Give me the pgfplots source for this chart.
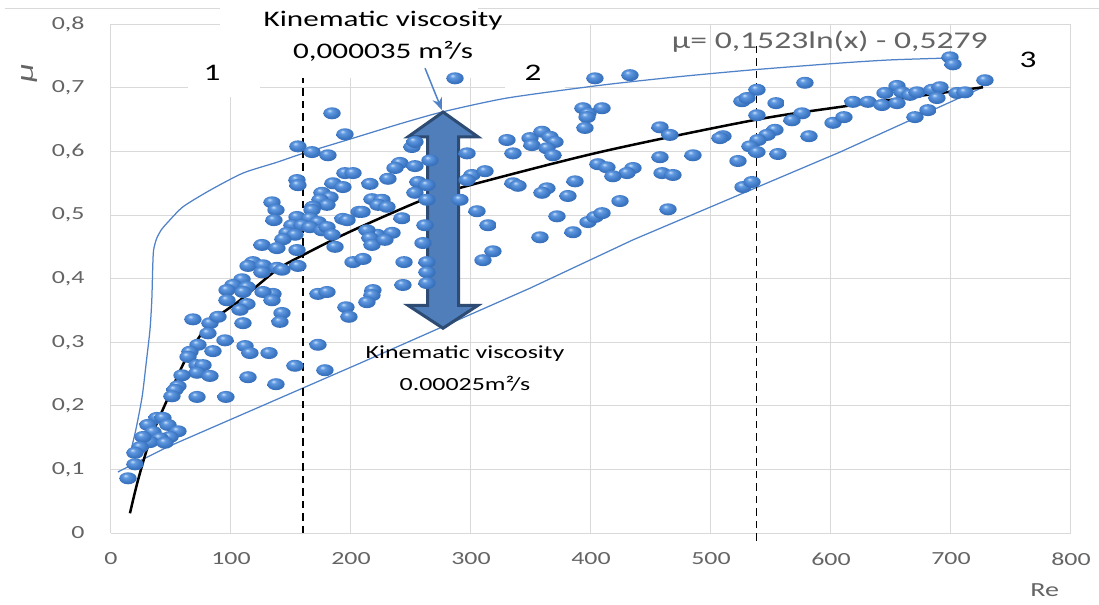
\documentclass[border=0pt]{standalone}
\usepackage{fontspec}
\setmainfont{Carlito}[FakeStretch=1.4]
\usepackage{pgfplots}
\pgfplotsset{compat=1.18}
\usetikzlibrary{arrows.meta}
\definecolor{envblue}{RGB}{80,130,200}
\definecolor{arrowfill}{RGB}{79,126,186}
\definecolor{arrowedge}{RGB}{45,75,115}
\definecolor{gridgray}{RGB}{217,217,217}
\definecolor{txtgray}{RGB}{100,100,100}
% glossy bubble like the spreadsheet's 3-D markers
\pgfdeclareradialshading{bub}{\pgfpoint{-8bp}{12bp}}{%
  rgb(0bp)=(0.78,0.88,0.98); rgb(8bp)=(0.38,0.60,0.88); rgb(22bp)=(0.24,0.47,0.77);
  rgb(38bp)=(0.17,0.37,0.64); rgb(50bp)=(0.12,0.28,0.52)}
\pgfdeclareplotmark{bubble}{%
  \pgfpathcircle{\pgfpointorigin}{\pgfplotmarksize}\pgfshadepath{bub}{0}\pgfusepath{}}

\begin{document}
\begin{tikzpicture}
\useasboundingbox (-44.4pt,-28.4pt) rectangle (395.2pt,213.2pt);
\begin{axis}[
  at={(0,0)}, anchor=south west,
  scale only axis, width=384pt, height=203.5pt,
  xmin=0, xmax=800, ymin=0, ymax=0.8,
  xtick={0,100,...,800},
  ytick={0,0.1,0.2,0.3,0.4,0.5,0.6,0.7,0.8},
  grid=major, major grid style={draw=gridgray, line width=0.4pt},
  axis line style={draw=none}, major tick length=0pt, tick style={draw=none},
  clip=false,
  /pgf/number format/use comma, /pgf/number format/1000 sep={},
  /pgf/number format/assume math mode=true,
  tick label style={font=\fontsize{7.4}{8}\selectfont, text=txtgray, inner sep=0pt},
  xticklabel style={anchor=north}, xticklabel shift=7.6pt,
  yticklabel style={anchor=east}, yticklabel shift=10.4pt,
]
% chart frame line and text backgrounds
\draw[gridgray, line width=0.4pt] (axis cs:-88,0.825) -- (axis cs:823,0.825);
\fill[white] (axis cs:90.8,0.715) rectangle (axis cs:305.8,0.84);
\fill[white] (axis cs:64.2,0.686) rectangle (axis cs:124.2,0.752);
\fill[white] (axis cs:328.3,0.698) rectangle (axis cs:378.3,0.752);

% envelopes
\addplot[envblue, line width=0.5pt, smooth, tension=0.4] coordinates {
(15.8,0.123)(21,0.165)(26,0.215)(29.5,0.27)(32.5,0.32)(34,0.366)(34.8,0.42)(35.5,0.445)
(38,0.463)(42,0.477)(47,0.488)(60,0.513)(82.5,0.539)(110,0.566)(138.3,0.583)(160,0.597)
(196.7,0.618)(240,0.643)(275.8,0.662)(330,0.684)(407.5,0.704)(470,0.717)(532.5,0.728)
(607.5,0.739)(650,0.744)(699.2,0.747)};
\addplot[envblue, line width=0.5pt] coordinates {
(5.8,0.096)(46.7,0.135)(207.5,0.267)(349.2,0.385)(435,0.461)(607.5,0.599)(726.7,0.701)};

% region borders
\addplot[black, line width=0.7pt, dash pattern=on 3pt off 2pt] coordinates {(160,0)(160,0.715)};
\addplot[black, line width=0.7pt, dash pattern=on 3pt off 2pt] coordinates {(538,-0.012)(538,0.767)};

% measured points
\addplot[only marks, mark=bubble, mark size=2.4pt, mark options={xscale=1.45}] coordinates {
(155.8,0.608)(167.5,0.599)(180.8,0.594)(195,0.566)(201.7,0.566)(155,0.555)(155.8,0.547)(185,0.550)
(193.3,0.544)(175.8,0.535)(182.5,0.528)(174.2,0.524)(180,0.516)(134.2,0.520)(168.3,0.513)(167.5,0.508)
(137.5,0.508)(206.7,0.505)(155,0.497)(165.8,0.495)(172.5,0.489)(135.8,0.492)(193.3,0.494)(150.8,0.484)
(159.2,0.484)(165.8,0.481)(175.8,0.476)(180,0.481)(146.7,0.472)(153.3,0.469)(143.3,0.462)(184.2,0.469)
(125.8,0.453)(138.3,0.448)(155,0.445)(186.7,0.450)(201.7,0.426)(118.3,0.426)(114.2,0.420)(126.7,0.421)
(155.8,0.420)(138.3,0.417)(142.5,0.414)(125.8,0.410)(109.2,0.399)(101.7,0.390)(113.3,0.387)(96.7,0.382)
(135,0.376)(172.5,0.376)(180,0.379)
(110,0.379)(126.7,0.379)(134.2,0.366)(96.7,0.366)(113.3,0.360)(107.5,0.351)(142.5,0.346)(140.8,0.332)
(68.3,0.336)(82.5,0.330)(89.2,0.340)(110,0.330)(80.8,0.314)(95,0.303)(195.8,0.355)(198.3,0.340)
(172.5,0.296)(72.5,0.296)(65.8,0.285)(64.2,0.277)(85,0.286)(111.7,0.294)(115.8,0.283)(131.7,0.283)
(71.7,0.264)(76.7,0.264)(71.7,0.252)(82.5,0.247)(153.3,0.263)(178.3,0.256)(59.2,0.248)(55.8,0.231)
(53.3,0.225)(50.8,0.215)(114.2,0.245)(137.5,0.234)(71.7,0.214)(95.8,0.214)(38.3,0.181)(43.3,0.181)
(30.8,0.170)(35,0.159)(47.5,0.170)(55.8,0.160)(49.2,0.151)(40.8,0.149)(32.5,0.143)(45,0.142)
(26.7,0.151)(24.2,0.135)(20,0.126)(20,0.108)(14.2,0.086)
(286.7,0.715)(403.3,0.715)(195,0.627)(184.2,0.660)(393.3,0.668)(397.5,0.660)(396.7,0.654)(395,0.637)
(330,0.618)(335,0.597)(349.2,0.621)(350.8,0.610)(359.2,0.631)(365.8,0.623)(370,0.615)(363.3,0.605)
(368.3,0.594)(250.8,0.607)(253.3,0.615)(296.7,0.597)(240.8,0.582)(236.7,0.574)(253.3,0.577)(230.8,0.557)
(215.8,0.549)(300.8,0.563)(296.7,0.555)(311.7,0.569)(335,0.550)(339.2,0.546)(386.7,0.553)(363.3,0.542)
(359.2,0.535)(380.8,0.530)(255.8,0.552)(253.3,0.535)(217.5,0.525)(225.8,0.524)(222.5,0.516)(230,0.513)
(209.2,0.505)(242.5,0.495)(305,0.506)(314.2,0.484)(371.7,0.498)(385,0.473)(397.5,0.489)(403.3,0.497)
(221.7,0.469)(234.2,0.472)(213.3,0.476)(196.7,0.492)(357.5,0.465)
(432.5,0.720)(578.3,0.708)(538.3,0.697)(525.8,0.679)(530,0.684)(554.2,0.676)(409.2,0.668)(538.3,0.657)
(575.8,0.660)(567.5,0.649)(601.7,0.645)(457.5,0.638)(465.8,0.626)(510,0.624)(507.5,0.621)(553.3,0.634)
(546.7,0.626)(539.2,0.618)(532.5,0.608)(538.3,0.599)(581.7,0.624)(485,0.594)(457.5,0.591)(522.5,0.585)
(555.8,0.596)(405.8,0.580)(413.3,0.575)(435,0.574)(430,0.566)(418.3,0.561)(459.2,0.566)(468.3,0.563)
(424.2,0.522)(526.7,0.544)(534.2,0.552)(464.2,0.509)(409.2,0.503)
(699.2,0.748)(701.7,0.737)(728.3,0.712)(655,0.703)(659.2,0.693)(645,0.692)(665.8,0.689)(671.7,0.693)
(684.2,0.697)(690.8,0.701)(688.3,0.684)(705,0.692)(711.7,0.693)(618.3,0.678)(630.8,0.678)(642.5,0.673)
(655,0.676)(610.8,0.654)(670,0.654)(680.8,0.665)
(215.8,0.464)(217.5,0.453)(228.3,0.461)(260,0.456)(210,0.431)(244.2,0.426)(263.3,0.426)(318.3,0.443)
(310,0.429)(243.3,0.390)(218.3,0.382)(217.5,0.374)(213.3,0.363)(263.3,0.410)(263.3,0.393)
(263.3,0.547)(263.3,0.524)(261.7,0.484)(265.8,0.586)(290.8,0.524)};

% trend line
\addplot[black, line width=1pt, smooth] coordinates {
(15.8,0.031)(22.5,0.083)(32.5,0.146)(46.7,0.209)(63.3,0.277)(82.5,0.330)(107.5,0.366)(138.3,0.414)
(160,0.437)(185,0.461)(207.5,0.481)(260,0.524)(293.3,0.544)(407.5,0.599)(535,0.649)(607.5,0.670)(726.7,0.701)};

% double arrow
\draw[fill=arrowfill, draw=arrowedge, line width=1.2pt, line join=miter]
  (axis cs:276.7,0.662) -- (axis cs:305.8,0.623) -- (axis cs:289.6,0.623) -- (axis cs:289.6,0.358)
  -- (axis cs:305.8,0.358) -- (axis cs:276.7,0.322) -- (axis cs:247.5,0.358) -- (axis cs:263.8,0.358)
  -- (axis cs:263.8,0.623) -- (axis cs:247.5,0.623) -- cycle;
\draw[envblue, line width=0.6pt, -{Stealth[length=5pt,width=4pt]}] (axis cs:261.7,0.731) -- (axis cs:275.8,0.665);

% texts
\node[align=center, font=\fontsize{8.9}{12.8}\selectfont] at (axis cs:226.7,0.781) {Kinematic viscosity\\0,000035 m²/s};
\node[align=center, font=\fontsize{7.4}{12.8}\selectfont] at (axis cs:295,0.259) {Kinematic viscosity\\0.00025m²/s};
\node[text=txtgray, font=\fontsize{9.6}{11}\selectfont] at (axis cs:599,0.772) {μ= 0,1523ln(x) - 0,5279};
\node[font=\fontsize{9.5}{11}\selectfont] at (axis cs:84.2,0.723) {1};
\node[font=\fontsize{9.5}{11}\selectfont] at (axis cs:351.7,0.723) {2};
\node[font=\fontsize{9.5}{11}\selectfont] at (axis cs:764.2,0.744) {3};
\node[text=txtgray, rotate=90, font=\fontsize{10}{11}\selectfont\itshape] at (axis cs:-67.5,0.723) {μ};
\node[text=txtgray, font=\fontsize{8}{10}\selectfont] at (axis cs:778,-0.09) {Re};
\end{axis}
\end{tikzpicture}
\end{document}
